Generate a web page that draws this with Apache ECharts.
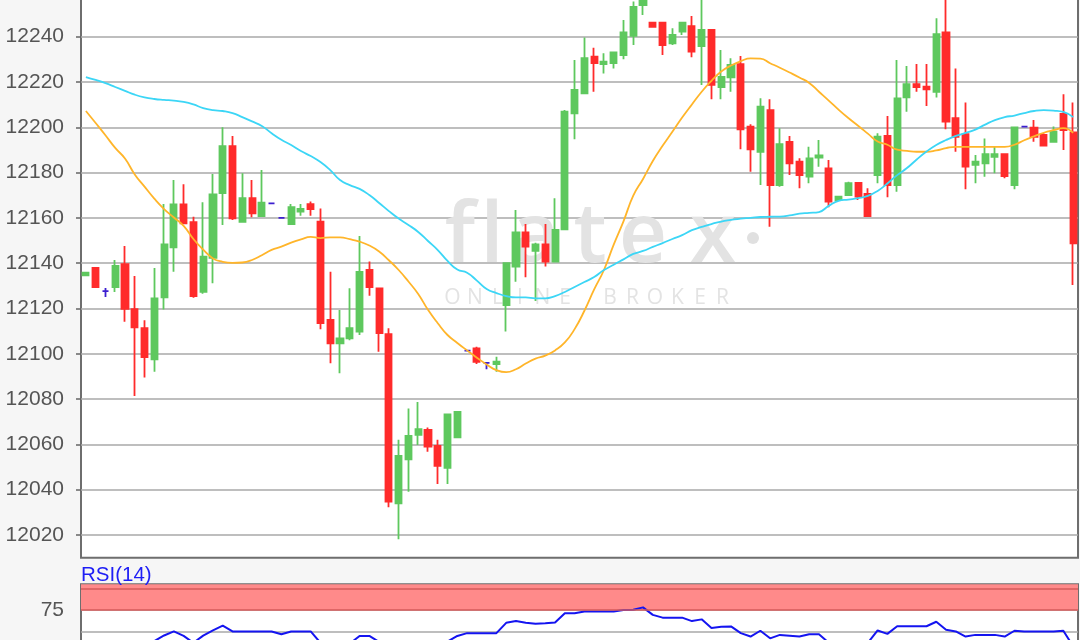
<!DOCTYPE html>
<html><head><meta charset="utf-8">
<script src="https://cdn.jsdelivr.net/npm/echarts@6/dist/echarts.min.js"></script>
<style>html,body{margin:0;padding:0;background:#f6f6f6}#c{width:1080px;height:640px}</style>
</head><body><div id="c"></div>
<script>
const opens = [12134.6,12137.9,12127.7,12129.5,12139.6,12119.7,12111.3,12097.6,12124.9,12147.0,
 12166.0,12158.1,12127.4,12142.4,12170.9,12191.7,12158.3,12168.7,12160.8,12166.4,
 12160.0,12157.3,12162.8,12166.1,12158.3,12115.0,12104.6,12106.8,12109.8,12137.0,
 12128.9,12108.7,12034.0,12053.4,12064.2,12066.4,12059.3,12049.7,12063.1,12101.4,
 12102.4,12096.0,12095.4,12121.5,12138.5,12153.6,12145.5,12148.3,12140.7,12155.0,
 12206.2,12215.0,12231.2,12227.9,12228.3,12231.9,12240.4,12254.0,12246.2,12246.2,
 12237.1,12242.2,12244.7,12235.9,12243.0,12217.7,12222.1,12227.9,12200.3,12189.2,
 12207.6,12174.5,12193.6,12184.8,12178.2,12186.6,12181.9,12167.9,12170.1,12175.5,
 12170.6,12178.9,12196.2,12174.5,12213.2,12219.0,12217.9,12215.7,12241.9,12204.0,
 12197.0,12183.4,12184.1,12187.0,12188.1,12174.5,12200.3,12199.8,12196.6,12193.6,
 12205.9,12197.8];
const closes = [12135.8,12129.5,12127.7,12138.8,12119.8,12111.7,12098.5,12124.5,12148.3,12166.0,
 12157.6,12125.5,12142.9,12170.4,12191.7,12159.8,12168.7,12162.0,12166.7,12166.4,
 12160.0,12164.7,12164.0,12163.9,12113.5,12104.6,12106.8,12111.3,12136.2,12129.4,
 12109.1,12034.7,12054.9,12063.7,12066.7,12059.0,12050.5,12073.3,12074.3,12101.4,
 12096.5,12096.0,12096.5,12140.0,12153.6,12147.3,12148.3,12140.7,12154.7,12206.9,
 12216.5,12230.5,12228.3,12229.0,12233.1,12241.9,12253.2,12257.0,12244.4,12236.3,
 12240.8,12246.2,12233.4,12243.0,12218.7,12222.3,12227.5,12199.1,12190.3,12209.1,
 12174.5,12192.6,12184.1,12178.9,12186.3,12187.6,12167.2,12169.4,12175.3,12169.4,
 12160.8,12195.9,12174.5,12212.8,12219.0,12217.7,12216.8,12241.1,12202.5,12195.8,
 12182.6,12184.8,12188.1,12188.1,12178.5,12200.0,12200.3,12195.8,12191.9,12198.1,
 12198.8,12148.8];
const lows = [12134.6,12129.5,12125.1,12127.3,12114.1,12081.4,12089.5,12092.1,12119.6,12136.2,
 12157.6,12124.8,12126.5,12131.1,12156.9,12159.1,12158.3,12160.3,12160.8,12166.4,
 12160.0,12156.9,12161.0,12161.0,12110.8,12095.8,12091.4,12106.0,12108.3,12125.6,
 12100.9,12032.2,12018.1,12039.1,12059.7,12056.8,12042.5,12042.5,12063.1,12101.4,
 12095.5,12093.2,12092.1,12109.8,12131.8,12133.8,12123.3,12138.5,12140.7,12155.0,
 12194.7,12215.0,12215.7,12223.8,12226.0,12230.0,12236.3,12249.6,12244.4,12231.9,
 12236.3,12240.8,12230.9,12218.7,12212.4,12212.4,12215.7,12190.3,12180.4,12174.5,
 12156.1,12173.8,12178.9,12173.1,12175.3,12182.6,12164.7,12167.9,12170.1,12167.9,
 12160.8,12175.3,12169.1,12171.6,12206.9,12215.7,12209.4,12213.2,12199.1,12189.2,
 12172.6,12175.3,12178.2,12179.7,12177.5,12172.6,12200.3,12193.6,12191.9,12193.6,
 12190.0,12130.4];
const highs = [12135.8,12138.3,12129.1,12141.4,12147.6,12134.4,12114.8,12137.9,12166.1,12176.7,
 12174.9,12160.5,12166.9,12179.4,12200.0,12196.2,12179.7,12176.7,12181.1,12166.4,
 12160.0,12166.1,12166.1,12167.2,12164.2,12136.2,12119.3,12128.9,12152.0,12140.7,
 12128.9,12111.3,12062.0,12075.9,12078.7,12067.5,12062.0,12073.3,12074.3,12101.4,
 12103.1,12096.0,12098.7,12140.0,12163.5,12157.3,12149.0,12157.3,12168.7,12207.6,
 12229.7,12239.6,12235.1,12232.7,12233.1,12247.4,12255.5,12259.0,12246.2,12246.2,
 12243.7,12246.2,12249.1,12257.0,12243.0,12234.1,12230.5,12231.5,12201.4,12212.8,
 12212.4,12199.6,12196.2,12186.3,12191.4,12194.4,12185.6,12169.4,12176.0,12175.5,
 12173.1,12197.4,12205.0,12229.7,12227.1,12227.9,12227.9,12248.1,12258.0,12226.0,
 12210.9,12187.8,12195.1,12191.4,12188.1,12200.0,12200.3,12203.2,12197.4,12200.3,
 12214.6,12210.9];
const maFast = [12207.2,12201.9,12196.5,12190.9,12186.2,12179.2,12173.8,12168.5,12163.9,12160.2,
 12156.5,12150.7,12146.0,12142.1,12140.6,12140.1,12140.3,12141.4,12143.5,12145.9,
 12147.3,12149.1,12150.5,12151.6,12151.1,12151.4,12151.4,12150.6,12149.5,12147.8,
 12145.2,12141.3,12137.0,12131.9,12126.4,12119.4,12113.5,12108.3,12104.8,12101.5,
 12098.3,12095.3,12092.8,12091.9,12093.2,12095.7,12097.9,12099.2,12101.5,12105.0,
 12110.9,12119.0,12128.4,12137.0,12148.2,12158.5,12169.8,12177.2,12185.1,12191.8,
 12198.0,12204.3,12210.1,12215.7,12220.5,12224.6,12227.3,12229.2,12230.4,12230.3,
 12228.3,12226.3,12224.2,12222.0,12219.6,12215.7,12211.8,12207.8,12204.1,12200.7,
 12197.2,12193.7,12192.3,12190.1,12189.6,12189.2,12189.2,12189.8,12190.8,12191.4,
 12191.4,12191.4,12191.4,12191.4,12191.4,12192.3,12194.3,12196.0,12197.6,12198.7,
 12199.6,12197.5];
const maSlow = [12222.2,12220.9,12219.5,12217.8,12216.1,12214.4,12213.2,12212.5,12212.1,12211.8,
 12211.2,12210.1,12208.5,12207.6,12207.2,12206.3,12204.5,12202.6,12200.6,12197.4,
 12194.5,12192.2,12189.5,12187.3,12184.7,12181.1,12176.7,12174.5,12172.8,12170.1,
 12166.6,12163.0,12159.7,12156.9,12153.8,12149.8,12145.8,12141.0,12137.2,12135.8,
 12132.3,12128.6,12126.8,12125.5,12124.9,12124.9,12124.5,12124.5,12125.5,12127.3,
 12129.5,12131.7,12133.9,12137.0,12139.3,12141.7,12144.1,12145.4,12147.2,12148.9,
 12150.7,12152.4,12154.6,12156.0,12157.3,12158.4,12159.1,12159.7,12160.0,12160.4,
 12160.5,12160.6,12161.1,12161.9,12162.2,12162.6,12165.3,12167.5,12168.1,12168.7,
 12169.7,12171.9,12175.2,12178.9,12182.0,12185.8,12189.3,12192.2,12194.4,12196.2,
 12197.5,12199.0,12201.2,12203.2,12204.5,12205.2,12206.3,12207.2,12207.6,12207.4,
 12206.8,12204.5];
const rsi14 = [32,29,28,33,27,25,28,39,45.5,50.2,
 45,37,45.3,51.5,57.0,50.2,50.2,50.2,50.2,50.2,
 47.0,50.2,50.2,50.2,37,33,34,36,45,45,
 38,22,28,32,33,31,30,38.5,45,48.2,
 48.2,48.2,48.2,60.2,62.2,60.2,59.0,59.6,60.5,71.4,
 71.4,73.4,73.4,73.4,73.4,75.1,75.3,78.1,69.4,66.2,
 66.2,66.2,62.2,64.2,54.2,55.5,56.0,48.2,44.3,51.0,
 42.2,46.2,45.3,44.3,47.0,47.0,37,35,37,36,
 37,51.3,47.4,56.2,56.2,56.2,56.2,61.4,52.1,50.2,
 44.3,46.2,46.2,46.2,44.3,51.0,50.2,50.2,50.2,50.2,
 51.0,33];
const priceTicks = [12020,12040,12060,12080,12100,12120,12140,12160,12180,12200,12220,12240,12260];
const rsiGridTicks = [25,50,75];
const rsiLabelTicks = [25,75];
const rsiBand = [75,105];
const rsiLevels = [75,100];

const categories = opens.map((_, i) => String(i + 1));
const candles = opens.map((o, i) => [o, closes[i], lows[i], highs[i]]);

const FONT = 'Liberation Sans';
const chart = echarts.init(document.getElementById('c'), null, {renderer: 'canvas'});

const wmLetters = ['f','l','a','t','e','x'];
const wmX = [460,492,535,590,643,713];
const subLetters = 'ONLINEBROKER'.split('');
const subX = [452.5,475,497.5,520,542.5,565,610,632.5,655,677.5,700,722.5];

const graphics = [];
wmLetters.forEach((ch, i) => graphics.push({
  type: 'text', x: wmX[i], y: 280, z: 1, silent: true,
  style: {text: ch, fill: '#e3e3e3', font: '600 84px "Open Sans"', align: 'center', verticalAlign: 'bottom'}
}));
graphics.push({type: 'circle', z: 1, silent: true, shape: {cx: 753, cy: 238, r: 6}, style: {fill: '#e0e0e0'}});
subLetters.forEach((ch, i) => graphics.push({
  type: 'text', x: subX[i], y: 298, z: 1, silent: true,
  style: {text: ch, fill: '#e3e3e3', font: '21px "Open Sans"', align: 'center', verticalAlign: 'middle'}
}));

const plain = v => String(v);

chart.setOption({
  animation: false,
  backgroundColor: '#f6f6f6',
  title: {text: 'RSI(14)', left: 81, top: 565, padding: 0,
    textStyle: {color: '#1e1ef5', fontSize: 20.5, fontWeight: 'normal', fontFamily: FONT}},
  graphic: graphics,
  grid: [
    {left: 81, right: 2, top: -31.25, height: 588.9, outerBoundsMode: 'none', containLabel: false,
      show: true, backgroundColor: '#ffffff', borderColor: '#6e6e6e', borderWidth: 2},
    {left: 81, right: 2, top: 584.2, height: 90.5, outerBoundsMode: 'none', containLabel: false,
      show: true, backgroundColor: '#ffffff', borderColor: '#6e6e6e', borderWidth: 2}
  ],
  xAxis: [
    {type: 'category', gridIndex: 0, data: categories, boundaryGap: true,
      axisLine: {show: false}, axisTick: {show: false}, axisLabel: {show: false}, splitLine: {show: false}},
    {type: 'category', gridIndex: 1, data: categories, boundaryGap: true,
      axisLine: {show: false}, axisTick: {show: false}, axisLabel: {show: false}, splitLine: {show: false}}
  ],
  yAxis: [
    {type: 'value', gridIndex: 0, min: 12010, max: 12270, position: 'left',
      axisLine: {show: false},
      axisTick: {show: true, length: 5, customValues: priceTicks, lineStyle: {color: '#666', width: 1.5}},
      axisLabel: {customValues: priceTicks, formatter: plain, fontSize: 21, color: '#555', margin: 17, fontFamily: FONT},
      splitLine: {show: true, lineStyle: {color: '#a9a9a9', width: 1.5}}},
    {type: 'value', gridIndex: 1, min: 0, max: 105, position: 'left',
      axisLine: {show: false},
      axisTick: {show: false, customValues: rsiGridTicks},
      axisLabel: {customValues: rsiLabelTicks, formatter: plain, fontSize: 21, color: '#555', margin: 17, fontFamily: FONT},
      splitLine: {show: true, lineStyle: {color: '#a9a9a9', width: 1.5}}}
  ],
  series: [
    {type: 'candlestick', xAxisIndex: 0, yAxisIndex: 0, data: candles, barWidth: 6.6, z: 2,
      itemStyle: {color: '#5ec85e', color0: '#ff2b2b', borderColor: '#5ec85e', borderColor0: '#ff2b2b',
        borderColorDoji: '#3c1fd0', borderWidth: 1.8}},
    {type: 'line', xAxisIndex: 0, yAxisIndex: 0, data: maFast, smooth: true, showSymbol: false, z: 3,
      lineStyle: {color: '#ffb52a', width: 1.8}},
    {type: 'line', xAxisIndex: 0, yAxisIndex: 0, data: maSlow, smooth: true, showSymbol: false, z: 3,
      lineStyle: {color: '#3cd6f6', width: 1.8}},
    {type: 'line', xAxisIndex: 1, yAxisIndex: 1, data: rsi14, showSymbol: false, z: 3,
      lineStyle: {color: '#1414f0', width: 2},
      markArea: {silent: true, itemStyle: {color: '#ff8a8a'}, data: [[{yAxis: rsiBand[0]}, {yAxis: rsiBand[1]}]]},
      markLine: {silent: true, symbol: 'none', label: {show: false},
        lineStyle: {color: '#d55a5a', width: 1.5, type: 'solid'},
        data: rsiLevels.map(v => ({yAxis: v}))}}
  ]
});
</script>
</body></html>
